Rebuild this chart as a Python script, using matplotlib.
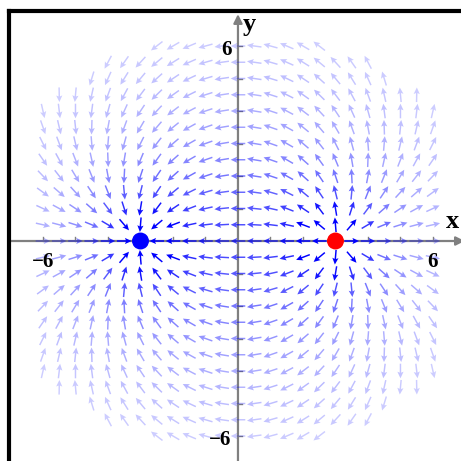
import numpy as np
import matplotlib
matplotlib.use("Agg")
import matplotlib.pyplot as plt

# point charges: sink (blue) on the left, source (red) on the right
charge_x = [-3.0, 3.0]
charge_y = [0.0, 0.0]
charge_q = [-1.0, 1.0]
charge_colors = ['#0000ff', '#ff0000']

# sample grid for the arrows
grid_min, grid_max, grid_step = -6.0, 6.0, 0.5
min_strength = 0.119       # weaker arrows are not drawn
tick_vals = [-6, -5, -4, -3, -2, -1, 1, 2, 3, 4, 5, 6]
tick_labels = {6: '6', -6: '\u22126'}

g = np.arange(grid_min, grid_max + grid_step / 2, grid_step)
X, Y = np.meshgrid(g, g)
X = X.ravel()
Y = Y.ravel()

U = np.zeros_like(X)
V = np.zeros_like(Y)
for cx, cy, q in zip(charge_x, charge_y, charge_q):
    dx = X - cx
    dy = Y - cy
    r2 = dx**2 + dy**2
    r2[r2 == 0] = np.nan
    U += q * dx / r2
    V += q * dy / r2

mag = np.hypot(U, V)
keep = np.isfinite(mag) & (mag >= min_strength)
X, Y, U, V, mag = X[keep], Y[keep], U[keep], V[keep], mag[keep]

alpha = np.clip(0.95 * mag**0.75, 0, 1)
colors = np.zeros((len(X), 4))
colors[:, 2] = 1.0
colors[:, 3] = alpha

fig = plt.figure(figsize=(4.61, 4.61), dpi=100)
ax = fig.add_axes([9 / 461, -9 / 461, 461 / 461, 459 / 461])
ax.set_xlim(-7.046, 7.14)
ax.set_ylim(-7.046, 7.077)

for s in ['bottom', 'right']:
    ax.spines[s].set_visible(False)
for s in ['left', 'top']:
    ax.spines[s].set_linewidth(3)
    ax.spines[s].set_color('black')
ax.set_xticks([])
ax.set_yticks([])

# axes with arrow heads
ax.annotate('', xy=(6.98, 0), xytext=(-7.05, 0),
            arrowprops=dict(arrowstyle='-|>', color='#808080', lw=1.6,
                            mutation_scale=13, shrinkA=0, shrinkB=0), zorder=1)
ax.annotate('', xy=(0, 6.98), xytext=(0, -7.1),
            arrowprops=dict(arrowstyle='-|>', color='#808080', lw=1.6,
                            mutation_scale=13, shrinkA=0, shrinkB=0), zorder=1)
tl = 0.12
for t in tick_vals:
    ax.plot([t, t], [0, tl], color='#808080', lw=1, zorder=1)
    ax.plot([0, tl], [t, t], color='#808080', lw=1, zorder=1)

ax.quiver(X, Y, U / mag, V / mag, color=colors, pivot='middle',
          angles='xy', scale_units='xy', scale=1 / 0.45,
          width=0.0032, headwidth=4.2, headlength=4.5, headaxislength=3.8,
          zorder=2)

ax.scatter(charge_x, charge_y, s=125, c=charge_colors, zorder=3)

font = dict(family='Liberation Serif', weight='bold')
for t, lab in tick_labels.items():
    ax.text(t, -0.65, lab, ha='center', va='center', fontsize=15, **font)
    ax.text(-0.2, t - 0.12, lab, ha='right', va='center', fontsize=15, **font)
ax.text(0.35, 6.65, 'y', ha='center', va='center', fontsize=19, **font)
ax.text(6.6, 0.6, 'x', ha='center', va='center', fontsize=19, **font)

fig.savefig('out.png', dpi=100)
